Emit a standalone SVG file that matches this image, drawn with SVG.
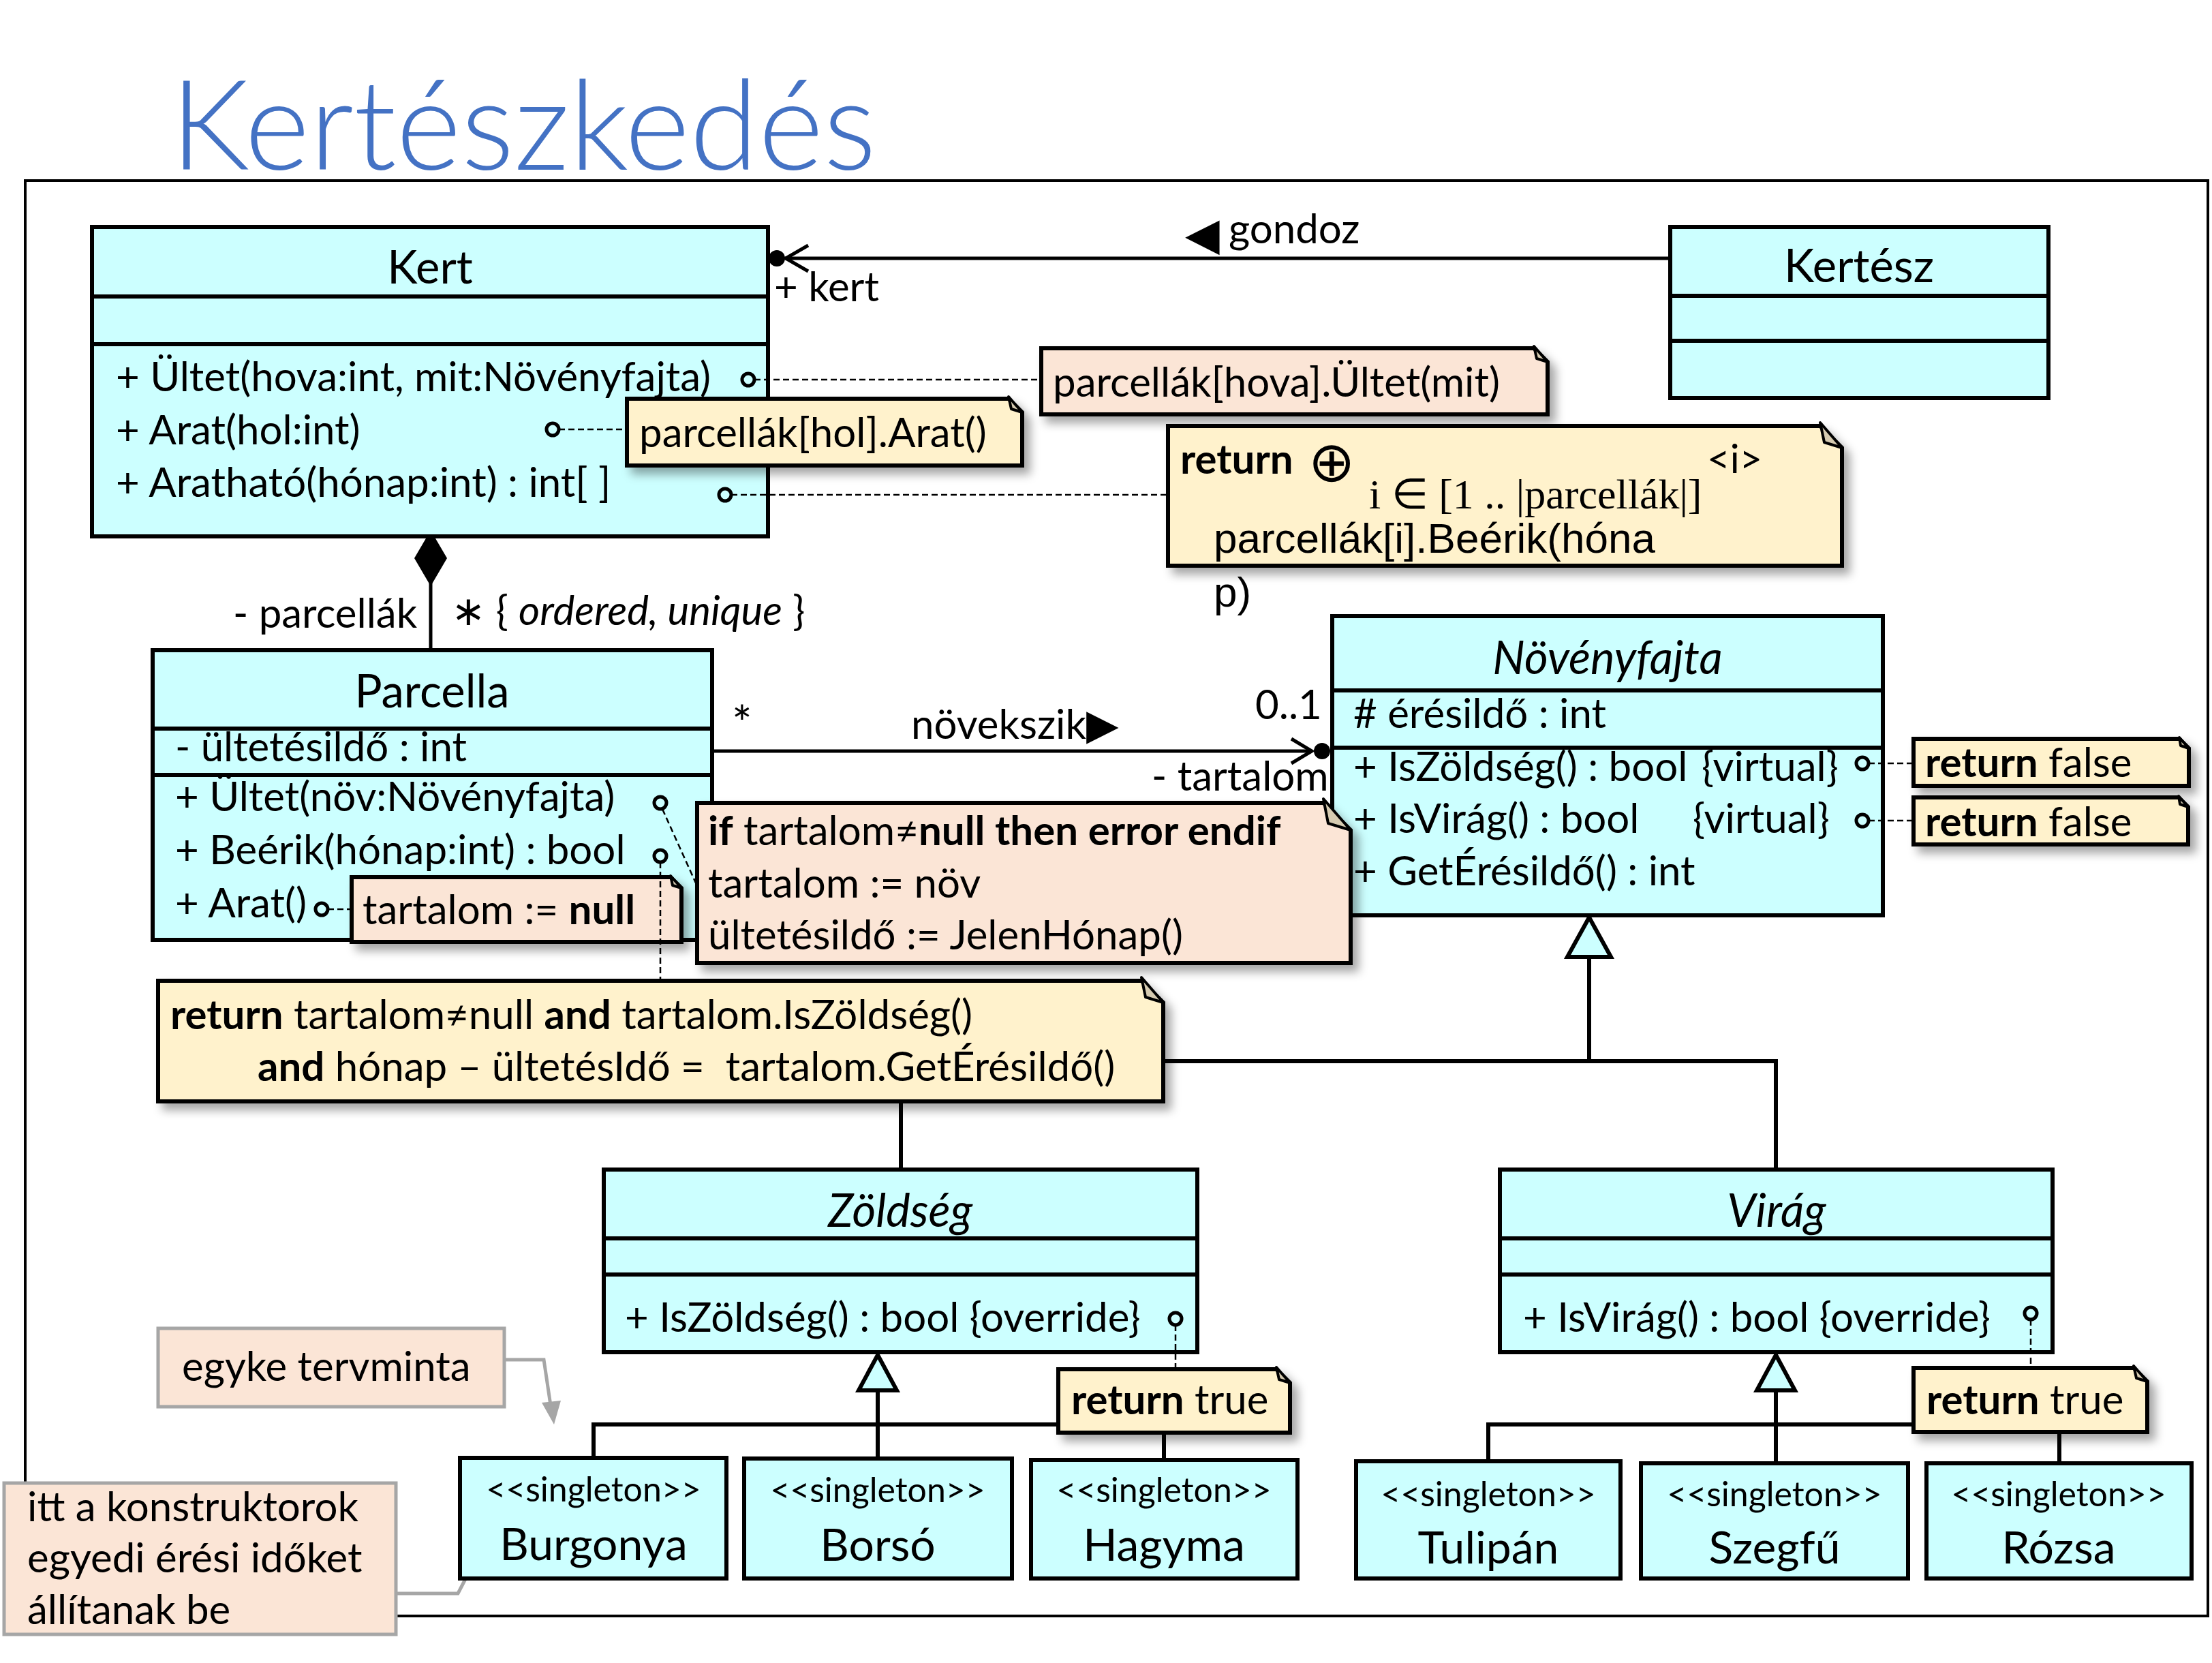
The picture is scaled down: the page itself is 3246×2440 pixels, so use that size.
<svg xmlns="http://www.w3.org/2000/svg" width="3246" height="2440" viewBox="0 0 3246 2440">
<style>
.cls{fill:#CCFFFF;stroke:#000;stroke-width:6}
.sep{stroke:#000;stroke-width:6;fill:none}
.t{font-family:Lato,"Open Sans","DejaVu Sans",sans-serif;font-size:60px;fill:#000}
.ttl{font-size:67px;text-anchor:middle}
.nm{font-size:66px;text-anchor:middle}
.st{font-size:50px;text-anchor:middle}
.it{font-style:italic}
.b{font-weight:bold}
.ny{fill:#FFF2CC;stroke:#000;stroke-width:6;stroke-linejoin:miter}
.np{fill:#FBE5D6;stroke:#000;stroke-width:6;stroke-linejoin:miter}
.ng{fill:#FBE5D6;stroke:#A6A6A6;stroke-width:5}
.fold{fill:#D6CBB1;stroke:#000;stroke-width:4;stroke-linejoin:round}
.dash{stroke:#000;stroke-width:2.5;stroke-dasharray:9 5;fill:none}
.port{fill:none;stroke:#000;stroke-width:5}
.ln{stroke:#000;stroke-width:6;fill:none}
.gl{stroke:#A6A6A6;stroke-width:5;fill:none}
.sym{font-family:"DejaVu Sans",sans-serif}
</style>
<defs>
<filter id="sh" x="-10%" y="-20%" width="130%" height="160%">
<feDropShadow dx="9" dy="10" stdDeviation="7" flood-color="#000" flood-opacity="0.35"/>
</filter>
</defs>

<text x="250" y="249" font-family="Lato,'Open Sans',sans-serif" font-weight="300" font-size="184" fill="#4472C4" textLength="1036" lengthAdjust="spacingAndGlyphs">Kertészkedés</text>

<rect id="frame" x="37" y="265" width="3203" height="2106" fill="none" stroke="#000" stroke-width="4"/>

<g id="connectors">
<!-- gondoz -->
<line class="ln" x1="1152" y1="379" x2="2451" y2="379" style="stroke-width:5"/>
<polyline class="ln" points="1186,360 1153,379 1186,398" style="stroke-width:5"/>
<circle cx="1140" cy="379" r="12" fill="#000"/>
<!-- composition -->
<line class="ln" x1="632" y1="850" x2="632" y2="954" style="stroke-width:5"/>
<polygon points="632,778 656,819 632,860 608,819" fill="#000"/>
<!-- novekszik -->
<line class="ln" x1="1045" y1="1102" x2="1925" y2="1102" style="stroke-width:5"/>
<polyline class="ln" points="1895,1084 1925,1102 1895,1120" style="stroke-width:5"/>
<circle cx="1940" cy="1102" r="12" fill="#000"/>
<!-- generalization Novenyfajta -->
<polyline class="ln" points="1322,1716 1322,1557 2606,1557 2606,1716"/>
<line class="ln" x1="2332" y1="1404" x2="2332" y2="1557"/>
<polygon points="2332,1346 2364,1404 2300,1404" fill="#CCFFFF" stroke="#000" stroke-width="6"/>
<!-- generalization Zoldseg -->
<polyline class="ln" points="871,2140 871,2090 1708,2090 1708,2142"/>
<line class="ln" x1="1288" y1="2040" x2="1288" y2="2140"/>
<polygon points="1288,1988 1316,2040 1260,2040" fill="#CCFFFF" stroke="#000" stroke-width="6"/>
<!-- generalization Virag -->
<polyline class="ln" points="2184,2144 2184,2090 3022,2090 3022,2147"/>
<line class="ln" x1="2606" y1="2040" x2="2606" y2="2147"/>
<polygon points="2606,1988 2634,2040 2578,2040" fill="#CCFFFF" stroke="#000" stroke-width="6"/>
<!-- gray note arrows -->
<polyline class="gl" points="740,1995 798,1995 808,2062"/>
<polygon points="795,2058 823,2055 813,2090" fill="#A6A6A6"/>
<polyline class="gl" points="583,2338 672,2338 698,2288"/>
<polygon points="686,2283 712,2296 714,2260" fill="#A6A6A6"/>
</g>

<g id="Kert">
<rect class="cls" x="135" y="333" width="992" height="454"/>
<line class="sep" x1="135" y1="435" x2="1127" y2="435"/>
<line class="sep" x1="135" y1="505" x2="1127" y2="505"/>
<text class="t ttl" x="631" y="416">Kert</text>
<text class="t" x="170" y="574">+ Ültet(hova:int, mit:Növényfajta)</text>
<text class="t" x="170" y="652">+ Arat(hol:int)</text>
<text class="t" x="170" y="729">+ Aratható(hónap:int) : int[ ]</text>
<circle class="port" cx="1098" cy="557" r="9"/>
<circle class="port" cx="811" cy="630" r="9"/>
<circle class="port" cx="1064" cy="726" r="9"/>
</g>

<g id="Kertesz">
<rect class="cls" x="2451" y="333" width="555" height="251"/>
<line class="sep" x1="2451" y1="434" x2="3006" y2="434"/>
<line class="sep" x1="2451" y1="500" x2="3006" y2="500"/>
<text class="t ttl" x="2728" y="414">Kertész</text>
</g>

<g id="Parcella">
<rect class="cls" x="224" y="954" width="821" height="425"/>
<line class="sep" x1="224" y1="1069" x2="1045" y2="1069"/>
<line class="sep" x1="224" y1="1137" x2="1045" y2="1137"/>
<text class="t ttl" x="634" y="1038">Parcella</text>
<text class="t" x="257" y="1117">- ültetésildő : int</text>
<text class="t" x="257" y="1190">+ Ültet(növ:Növényfajta)</text>
<text class="t" x="257" y="1268">+ Beérik(hónap:int) : bool</text>
<text class="t" x="257" y="1346">+ Arat()</text>
<circle class="port" cx="969" cy="1178" r="9"/>
<circle class="port" cx="969" cy="1256" r="9"/>
<circle class="port" cx="472" cy="1334" r="9"/>
</g>

<g id="Novenyfajta">
<rect class="cls" x="1955" y="904" width="808" height="439"/>
<line class="sep" x1="1955" y1="1013" x2="2763" y2="1013"/>
<line class="sep" x1="1955" y1="1097" x2="2763" y2="1097"/>
<text class="t ttl it" x="2359" y="989">Növényfajta</text>
<text class="t" x="1986" y="1068"># érésildő : int</text>
<text class="t" x="1986" y="1146">+ IsZöldség() : bool <tspan x="2497">{virtual}</tspan></text>
<text class="t" x="1986" y="1222">+ IsVirág() : bool <tspan x="2484">{virtual}</tspan></text>
<text class="t" x="1986" y="1299">+ GetÉrésildő() : int</text>
<circle class="port" cx="2733" cy="1120" r="9"/>
<circle class="port" cx="2733" cy="1204" r="9"/>
</g>

<g id="Zoldseg">
<rect class="cls" x="886" y="1716" width="871" height="268"/>
<line class="sep" x1="886" y1="1817" x2="1757" y2="1817"/>
<line class="sep" x1="886" y1="1870" x2="1757" y2="1870"/>
<text class="t ttl it" x="1321" y="1800">Zöldség</text>
<text class="t" x="917" y="1954">+ IsZöldség() : bool {override}</text>
<circle class="port" cx="1725" cy="1935" r="9"/>
</g>

<g id="Virag">
<rect class="cls" x="2201" y="1716" width="811" height="268"/>
<line class="sep" x1="2201" y1="1817" x2="3012" y2="1817"/>
<line class="sep" x1="2201" y1="1870" x2="3012" y2="1870"/>
<text class="t ttl it" x="2607" y="1800">Virág</text>
<text class="t" x="2235" y="1954">+ IsVirág() : bool {override}</text>
<circle class="port" cx="2980" cy="1927" r="9"/>
</g>

<g id="Burgonya">
<rect class="cls" x="675" y="2139" width="391" height="177"/>
<text class="t st" x="871" y="2203">&lt;&lt;singleton&gt;&gt;</text>
<text class="t nm" x="871" y="2289">Burgonya</text>
</g>
<g id="Borso">
<rect class="cls" x="1092" y="2140" width="393" height="176"/>
<text class="t st" x="1288" y="2204">&lt;&lt;singleton&gt;&gt;</text>
<text class="t nm" x="1288" y="2290">Borsó</text>
</g>
<g id="Hagyma">
<rect class="cls" x="1513" y="2142" width="391" height="174"/>
<text class="t st" x="1708" y="2204">&lt;&lt;singleton&gt;&gt;</text>
<text class="t nm" x="1708" y="2290">Hagyma</text>
</g>
<g id="Tulipan">
<rect class="cls" x="1990" y="2144" width="388" height="172"/>
<text class="t st" x="2184" y="2210">&lt;&lt;singleton&gt;&gt;</text>
<text class="t nm" x="2184" y="2294">Tulipán</text>
</g>
<g id="Szegfu">
<rect class="cls" x="2408" y="2147" width="392" height="169"/>
<text class="t st" x="2604" y="2210">&lt;&lt;singleton&gt;&gt;</text>
<text class="t nm" x="2604" y="2294">Szegfű</text>
</g>
<g id="Rozsa">
<rect class="cls" x="2827" y="2147" width="389" height="169"/>
<text class="t st" x="3021" y="2210">&lt;&lt;singleton&gt;&gt;</text>
<text class="t nm" x="3021" y="2294">Rózsa</text>
</g>

<g id="labels">
<text class="t sym" x="1739" y="366" style="font-size:66px">◀</text>
<text class="t" x="1803" y="357">gondoz</text>
<text class="t" x="1136" y="442">+ kert</text>
<text class="t" x="342" y="921">- parcellák</text>
<text class="t" x="662" y="917"><tspan>∗ { </tspan><tspan class="it">ordered, unique</tspan><tspan> }</tspan></text>
<text class="t" x="1074" y="1086" style="font-size:70px">*</text>
<text class="t" x="1337" y="1084">növekszik<tspan class="sym" style="font-size:62px">▶</tspan></text>
<text class="t" x="1842" y="1055">0..1</text>
<text class="t" x="1690" y="1160">- tartalom</text>
</g>

<g id="note-hova">
<path class="np" filter="url(#sh)" d="M1528,511 H2251 L2271,531 V608 H1528 Z"/>
<path class="fold" d="M2251,508 L2255,526 L2271,531 Z"/>
<text class="t" x="1545" y="582">parcellák[hova].Ültet(mit)</text>
</g>
<g id="note-hol">
<path class="ny" filter="url(#sh)" d="M920,585 H1480 L1500,605 V683 H920 Z"/>
<path class="fold" d="M1480,582 L1484,600 L1500,605 Z"/>
<text class="t" x="938" y="656">parcellák[hol].Arat()</text>
</g>
<g id="note-return">
<path class="ny" filter="url(#sh)" d="M1714,625 H2671 L2703,657 V830 H1714 Z"/>
<path class="fold" d="M2671,620 L2677,649 L2703,657 Z"/>
<text class="t b" x="1732" y="695">return</text>
<text class="t sym" x="1920" y="706" style="font-size:82px">⊕</text>
<text class="t" x="2505" y="694" style="font-size:58px">&lt;i&gt;</text>
<text x="2009" y="746" font-family="'Liberation Serif',serif" font-size="62">i ∈ [1 .. |parcellák|]</text>
<text x="1781" y="811" font-family="'Liberation Sans',Arial,sans-serif" font-size="62">parcellák[i].Beérik(hóna</text>
<text x="1781" y="890" font-family="'Liberation Sans',Arial,sans-serif" font-size="62">p)</text>
</g>
<g id="note-null">
<path class="np" filter="url(#sh)" d="M516,1287 H984 L1000,1303 V1382 H516 Z"/>
<path class="fold" d="M984,1285 L987,1299 L1000,1303 Z"/>
<text class="t" x="532" y="1356">tartalom := <tspan class="b">null</tspan></text>
</g>
<g id="note-if">
<path class="np" filter="url(#sh)" d="M1023,1178 H1942 L1982,1218 V1413 H1023 Z"/>
<path class="fold" d="M1942,1172 L1949,1208 L1982,1218 Z"/>
<text class="t" x="1039" y="1240"><tspan class="b">if</tspan> tartalom≠<tspan class="b">null then error endif</tspan></text>
<text class="t" x="1039" y="1317">tartalom := növ</text>
<text class="t" x="1039" y="1393">ültetésildő := JelenHónap()</text>
</g>
<g id="note-beerik">
<path class="ny" filter="url(#sh)" d="M232,1439 H1675 L1707,1471 V1616 H232 Z"/>
<path class="fold" d="M1675,1434 L1681,1463 L1707,1471 Z"/>
<text class="t" x="250" y="1510"><tspan class="b">return</tspan> tartalom≠null <tspan class="b">and</tspan> tartalom.IsZöldség()</text>
<text class="t" x="378" y="1586" xml:space="preserve"><tspan class="b">and</tspan> hónap – ültetésIdő =  tartalom.GetÉrésildő()</text>
</g>
<g id="note-false1">
<path class="ny" filter="url(#sh)" d="M2808,1084 H3198 L3212,1098 V1153 H2808 Z"/>
<path class="fold" d="M3198,1082 L3200,1094 L3212,1098 Z"/>
<text class="t" x="2825" y="1140"><tspan class="b">return</tspan> false</text>
</g>
<g id="note-false2">
<path class="ny" filter="url(#sh)" d="M2808,1170 H3197 L3211,1184 V1239 H2808 Z"/>
<path class="fold" d="M3197,1168 L3199,1180 L3211,1184 Z"/>
<text class="t" x="2825" y="1227"><tspan class="b">return</tspan> false</text>
</g>
<g id="note-trueZ">
<path class="ny" filter="url(#sh)" d="M1553,2009 H1873 L1893,2029 V2102 H1553 Z"/>
<path class="fold" d="M1873,2006 L1877,2024 L1893,2029 Z"/>
<text class="t" x="1572" y="2075"><tspan class="b">return</tspan> true</text>
</g>
<g id="note-trueV">
<path class="ny" filter="url(#sh)" d="M2808,2007 H3131 L3151,2027 V2101 H2808 Z"/>
<path class="fold" d="M3131,2004 L3135,2022 L3151,2027 Z"/>
<text class="t" x="2827" y="2075"><tspan class="b">return</tspan> true</text>
</g>
<g id="note-egyke">
<rect class="ng" x="232" y="1949" width="508" height="115"/>
<text class="t" x="267" y="2026">egyke tervminta</text>
</g>
<g id="note-itt">
<rect class="ng" x="6" y="2176" width="575" height="222"/>
<text class="t" x="40" y="2232">itt a konstruktorok</text>
<text class="t" x="40" y="2307">egyedi érési időket</text>
<text class="t" x="40" y="2383">állítanak be</text>
</g>

<g id="dashes">
<line class="dash" x1="1107" y1="557" x2="1528" y2="557"/>
<line class="dash" x1="820" y1="630" x2="920" y2="630"/>
<line class="dash" x1="1073" y1="726" x2="1714" y2="726"/>
<line class="dash" x1="972" y1="1187" x2="1023" y2="1300"/>
<line class="dash" x1="969" y1="1265" x2="969" y2="1439"/>
<line class="dash" x1="481" y1="1334" x2="516" y2="1334"/>
<line class="dash" x1="2742" y1="1120" x2="2808" y2="1120"/>
<line class="dash" x1="2742" y1="1204" x2="2808" y2="1204"/>
<line class="dash" x1="1725" y1="1944" x2="1725" y2="2009"/>
<line class="dash" x1="2980" y1="1936" x2="2980" y2="2007"/>
</g>
</svg>
